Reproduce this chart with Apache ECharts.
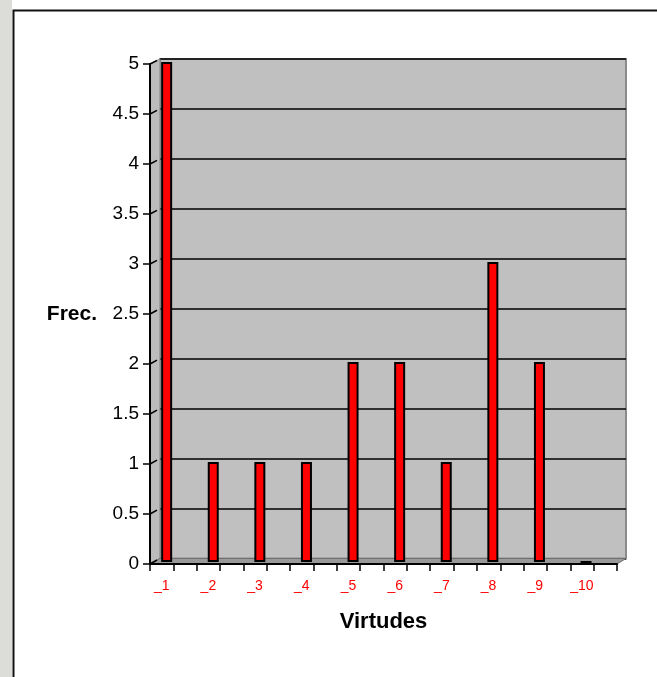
<!DOCTYPE html>
<html>
<head>
<meta charset="utf-8">
<script src="https://cdn.jsdelivr.net/npm/echarts@6/dist/echarts.min.js"></script>
<style>
html,body{margin:0;padding:0;background:#fff;}
#main{width:657px;height:677px;}
</style>
</head>
<body>
<div id="main"></div>
<script>
// ---- data ----
const categories = ['_1','_2','_3','_4','_5','_6','_7','_8','_9','_10'];
const frecuencias = [5, 1, 1, 1, 2, 2, 1, 3, 2, 0];
const yMin = 0, yMax = 5, yStep = 0.5;

// each category occupies two tick slots on the original axis
const slots = [];
const barData = [];
categories.forEach((c, i) => { slots.push(c, ''); barData.push(frecuencias[i], '-'); });

// ---- layout ----
const FRONT = {left:150, top:64, width:467, height:500};
const BACK  = {left:160, top:59, width:466, height:499.5};
const BARS  = {left:155, top:62, width:466, height:500};
const FONT = 'Liberation Sans, Arial, sans-serif';

const chart = echarts.init(document.getElementById('main'));
chart.setOption({
  animation: false,
  backgroundColor: '#ffffff',
  grid: [
    Object.assign({show:true, backgroundColor:'#c0c0c0', borderColor:'#8c8c8c', borderWidth:2}, BACK),
    Object.assign({}, FRONT),
    Object.assign({}, BARS)
  ],
  xAxis: [
    {gridIndex:0, type:'category', data:slots, show:false},
    {gridIndex:1, type:'category', data:slots, boundaryGap:true, z:5,
     axisLine:{lineStyle:{color:'#000', width:2}},
     axisTick:{show:true, interval:0, length:7, lineStyle:{color:'#000', width:1.5}},
     axisLabel:{interval:0, color:'#ff0000', fontSize:14, fontFamily:FONT, margin:15},
     name:'Virtudes', nameLocation:'middle', nameGap:47,
     nameTextStyle:{fontSize:22, fontWeight:'bold', color:'#000', fontFamily:FONT}},
    {gridIndex:2, type:'category', data:slots, show:false}
  ],
  yAxis: [
    {gridIndex:0, type:'value', min:yMin, max:yMax, interval:yStep,
     axisLine:{show:false}, axisTick:{show:false}, axisLabel:{show:false},
     splitLine:{show:true, lineStyle:{color:'#000', width:1.5}}},
    {gridIndex:1, type:'value', min:yMin, max:yMax, interval:yStep, z:5,
     axisLine:{show:true, lineStyle:{color:'#000', width:2}},
     axisTick:{show:true, length:7, lineStyle:{color:'#000', width:1.5}},
     axisLabel:{color:'#000', fontSize:19, fontFamily:FONT, margin:11},
     splitLine:{show:false},
     name:'Frec.', nameLocation:'middle', nameRotate:0, nameGap:53,
     nameTextStyle:{fontSize:21, fontWeight:'bold', color:'#000', fontFamily:FONT}},
    {gridIndex:2, type:'value', min:yMin, max:yMax, interval:yStep, show:false, splitLine:{show:false}}
  ],
  series: [{
    type:'bar', xAxisIndex:2, yAxisIndex:2, data:barData, barWidth:11, z:6,
    itemStyle:{color:'#ff0000', borderColor:'#000', borderWidth:2}
  }]
});

// decorative 3D walls + frame
const g = [];
g.push({type:'rect', shape:{x:0, y:0, width:12, height:677}, style:{fill:'#dcdcd8'}, z:0, silent:true});
g.push({type:'rect', shape:{x:13.5, y:10.5, width:700, height:700}, style:{fill:null, stroke:'#111', lineWidth:2}, z:0, silent:true});
const bl = BACK.left, bt = BACK.top, bb = BACK.top + BACK.height, br = BACK.left + BACK.width;
const fl = FRONT.left, ft = FRONT.top, fb = FRONT.top + FRONT.height, fr = FRONT.left + FRONT.width;
g.push({type:'polygon', shape:{points:[[fl,ft],[bl,bt],[bl,bb],[fl,fb]]}, style:{fill:'#bcbcbc', stroke:'#808080', lineWidth:1}, z:1, silent:true});
g.push({type:'polygon', shape:{points:[[bl,bb],[br,bb],[fr,fb],[fl,fb]]}, style:{fill:'#9a9a9a', stroke:'#707070', lineWidth:1}, z:1, silent:true});
for (let v = yMin; v <= yMax + 1e-9; v += yStep) {
  const yf = chart.convertToPixel({yAxisIndex:1}, v);
  const yb = chart.convertToPixel({yAxisIndex:0}, v);
  g.push({type:'line', shape:{x1:fl, y1:yf, x2:bl - 3, y2:yb + 1.5}, style:{stroke:'#000', lineWidth:1.5}, z:2, silent:true});
}
chart.setOption({graphic: g});
</script>
</body>
</html>
